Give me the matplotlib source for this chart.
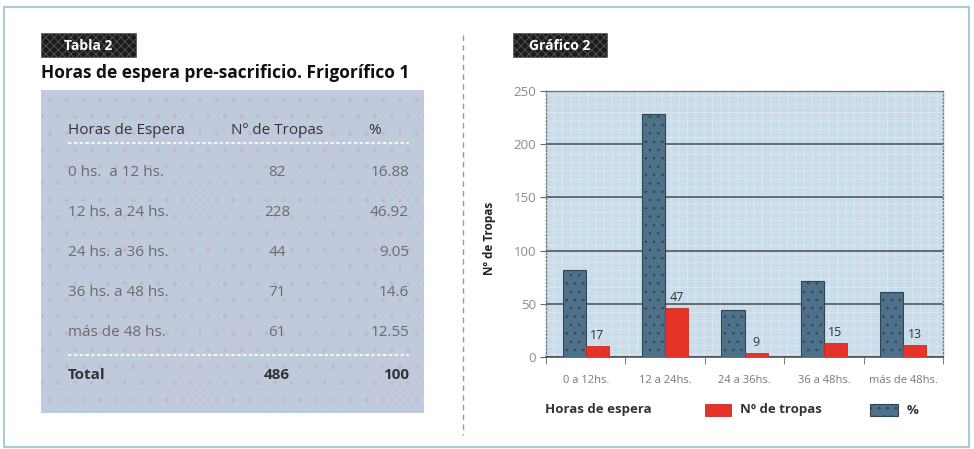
import numpy as np
import matplotlib
matplotlib.use('Agg')
import matplotlib.pyplot as plt
from matplotlib.patches import Rectangle

plt.rcParams['font.family'] = ['Open Sans', 'DejaVu Sans']
plt.rcParams['hatch.linewidth'] = 0.6

# Tabla 2 data
horas = ['0 hs.  a 12 hs.', '12 hs. a 24 hs.', '24 hs. a 36 hs.', '36 hs. a 48 hs.', 'más de 48 hs.']
tropas = [82, 228, 44, 71, 61]
porcentaje = ['16.88', '46.92', '9.05', '14.6', '12.55']
total_tropas = 486
total_pct = 100

# Grafico 2 data
categorias = ['0 a 12hs.', '12 a 24hs.', '24 a 36hs.', '36 a 48hs.', 'más de 48hs.']
barras_azules = [82, 228, 44, 71, 61]
barras_rojas = [10, 46, 4, 13, 11]
etiquetas_rojas = ['17', '47', '9', '15', '13']

W, H = 974, 449
fig = plt.figure(figsize=(W / 100, H / 100), dpi=100)
fig.patch.set_facecolor('white')

# overlay in pixel coordinates for table and decorations
bg = fig.add_axes([0, 0, 1, 1])
bg.set_xlim(0, W)
bg.set_ylim(H, 0)
bg.axis('off')

# outer border and separator
bg.add_patch(Rectangle((4, 7), 965, 440, fill=False, edgecolor='#a9cad6', lw=1.5))
bg.plot([463, 463], [35, 435], color='#9a9a9a', lw=1, ls=(0, (4, 3)))

# title boxes
for x0, w, txt in [(41, 95, 'Tabla 2'), (513, 94, 'Gráfico 2')]:
    bg.add_patch(Rectangle((x0, 33), w, 24, facecolor='#1c1c1c', edgecolor='#555555',
                           hatch='xxxx', lw=0.5))
    bg.text(x0 + w / 2, 45.5, txt, color='white', fontsize=10, fontweight='bold',
            ha='center', va='center')

bg.text(41, 73, 'Horas de espera pre-sacrificio. Frigorífico 1', fontsize=12.5,
        fontweight='bold', color='#111111', ha='left', va='center')

# table background
bg.add_patch(Rectangle((41, 90), 383, 323, facecolor='#bfcbdc', edgecolor='#cdb3cf',
                       hatch='.', lw=0))

col_x = [68, 277, 409]
fs = 11
bg.text(col_x[0], 131, 'Horas de Espera', fontsize=fs, color='#333333', ha='left', va='center')
bg.text(col_x[1], 131, 'Nº de Tropas', fontsize=fs, color='#333333', ha='center', va='center')
bg.text(375, 131, '%', fontsize=fs, color='#333333', ha='center', va='center')
bg.plot([68, 409], [143, 143], color='white', lw=1.2, ls=(0, (2, 1.5)))

row_y = [172, 212, 252, 292, 333]
for y, h, t, p in zip(row_y, horas, tropas, porcentaje):
    bg.text(col_x[0], y, h, fontsize=fs, color='#6b6b6b', ha='left', va='center')
    bg.text(col_x[1], y, str(t), fontsize=fs, color='#6b6b6b', ha='center', va='center')
    bg.text(col_x[2], y, p, fontsize=fs, color='#6b6b6b', ha='right', va='center')

bg.plot([68, 409], [355, 355], color='white', lw=1.2, ls=(0, (2, 1.5)))
bg.text(col_x[0], 375, 'Total', fontsize=fs, color='#333333', fontweight='bold', ha='left', va='center')
bg.text(col_x[1], 375, str(total_tropas), fontsize=fs, color='#333333', fontweight='bold', ha='center', va='center')
bg.text(col_x[2], 375, str(total_pct), fontsize=fs, color='#333333', fontweight='bold', ha='right', va='center')

# chart
ax = fig.add_axes([546 / W, (H - 357) / H, 397 / W, 266 / H])
ax.set_facecolor('#c8dcea')
ax.add_patch(Rectangle((0, 0), 1, 1, transform=ax.transAxes, facecolor='none',
                       edgecolor='#e2e6f2', hatch='++', lw=0, zorder=0))

x = np.arange(len(categorias))
w = 0.29
ax.bar(x - w / 2, barras_azules, w, color='#4f7089', edgecolor='#2d4656', hatch='..',
       lw=0.8, zorder=3)
bars = ax.bar(x + w / 2, barras_rojas, w, color='#e6332a', edgecolor='#c92b22', lw=0.6, zorder=3)
for b, lab in zip(bars, etiquetas_rojas):
    ax.annotate(lab, (b.get_x() + b.get_width() / 2, b.get_height()), xytext=(0, 3),
                textcoords='offset points', ha='center', va='bottom', fontsize=9,
                color='#333333', zorder=4)

ax.set_xlim(-0.5, len(categorias) - 0.5)
ax.set_ylim(0, 250)
ax.set_yticks([0, 50, 100, 150, 200, 250])
ax.yaxis.grid(True, color='#555555', lw=1.2, zorder=1)
ax.set_axisbelow(True)
ax.set_xticks(x)
ax.set_xticklabels(categorias, fontsize=8, color='#777777')
ax.set_xticks(np.arange(len(categorias) + 1) - 0.5, minor=True)
ax.tick_params(axis='x', which='major', length=0, pad=13)
ax.tick_params(axis='x', which='minor', length=5, color='#666666', direction='out')
ax.tick_params(axis='y', length=4, color='#666666', labelsize=9.5, labelcolor='#8a8a8a', pad=3)

for s in ['top', 'right', 'left']:
    ax.spines[s].set_linestyle(':')
    ax.spines[s].set_color('#777777')
    ax.spines[s].set_linewidth(1)
ax.spines['bottom'].set_color('#555555')
ax.spines['bottom'].set_linewidth(1.2)

bg.text(490, 238, 'Nº de Tropas', rotation=90, fontsize=8.5, fontweight='bold',
        color='#222222', ha='center', va='center')

# legend row
bg.text(545, 410, 'Horas de espera', fontsize=9.5, fontweight='bold', color='#333333',
        ha='left', va='center')
bg.add_patch(Rectangle((705, 404), 26, 12, facecolor='#e6332a', edgecolor='#c92b22', lw=0.6))
bg.text(740, 410, 'Nº de tropas', fontsize=9.5, fontweight='bold', color='#333333',
        ha='left', va='center')
bg.add_patch(Rectangle((870, 404), 28, 12, facecolor='#4f7089', edgecolor='#2d4656',
                       hatch='..', lw=0.8))
bg.text(907, 410, '%', fontsize=9.5, fontweight='bold', color='#333333', ha='left', va='center')

fig.savefig('out.png', dpi=100)
